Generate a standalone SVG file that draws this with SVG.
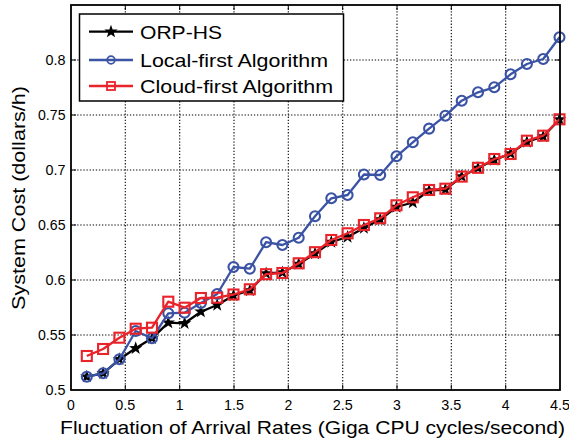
<svg xmlns="http://www.w3.org/2000/svg" xmlns:xlink="http://www.w3.org/1999/xlink" width="569" height="443" viewBox="0 0 569 443">
  <style>
    text { font-family: "Liberation Sans", Arial, sans-serif; fill: #000; }
    .tick { font-size: 14px; }
    .title { font-size: 19px; }
    .grid line { stroke: #000; stroke-width: 1.1; stroke-dasharray: 1.3 1.8; }
    .ticks line { stroke: #000; stroke-width: 1; }
    .s-orp { fill: none; stroke: #000; stroke-width: 2.3; stroke-linejoin: round; }
    .s-local { fill: none; stroke: #3a53a4; stroke-width: 2.3; stroke-linejoin: round; }
    .s-cloud { fill: none; stroke: #e8232a; stroke-width: 2.3; stroke-linejoin: round; }
  </style>
  <defs>
    <path id="star" d="M0,-7 L1.65,-2.27 L6.66,-2.16 L2.67,0.87 L4.11,5.66 L0,2.8 L-4.11,5.66 L-2.67,0.87 L-6.66,-2.16 L-1.65,-2.27 Z" fill="#000"/>
    <circle id="ring" r="5" fill="none" stroke="#3a53a4" stroke-width="2.1"/>
    <rect id="box" x="-5" y="-5" width="10" height="10" fill="none" stroke="#e8232a" stroke-width="2.1"/>
  </defs>

  <rect width="569" height="443" fill="#fff"/>

  <!-- dotted grid -->
  <g id="grid" class="grid">
    <line x1="125.3" y1="5" x2="125.3" y2="390"/>
    <line x1="179.7" y1="5" x2="179.7" y2="390"/>
    <line x1="234" y1="5" x2="234" y2="390"/>
    <line x1="288.3" y1="5" x2="288.3" y2="390"/>
    <line x1="342.7" y1="5" x2="342.7" y2="390"/>
    <line x1="397" y1="5" x2="397" y2="390"/>
    <line x1="451.3" y1="5" x2="451.3" y2="390"/>
    <line x1="505.7" y1="5" x2="505.7" y2="390"/>
    <line x1="71" y1="335" x2="560" y2="335"/>
    <line x1="71" y1="280" x2="560" y2="280"/>
    <line x1="71" y1="225" x2="560" y2="225"/>
    <line x1="71" y1="170" x2="560" y2="170"/>
    <line x1="71" y1="115" x2="560" y2="115"/>
    <line x1="71" y1="60" x2="560" y2="60"/>
  </g>

  <!-- tick marks on all four sides -->
  <g id="ticks" class="ticks">
    <line x1="125.3" y1="390" x2="125.3" y2="385"/><line x1="125.3" y1="5" x2="125.3" y2="10"/>
    <line x1="179.7" y1="390" x2="179.7" y2="385"/><line x1="179.7" y1="5" x2="179.7" y2="10"/>
    <line x1="234" y1="390" x2="234" y2="385"/><line x1="234" y1="5" x2="234" y2="10"/>
    <line x1="288.3" y1="390" x2="288.3" y2="385"/><line x1="288.3" y1="5" x2="288.3" y2="10"/>
    <line x1="342.7" y1="390" x2="342.7" y2="385"/><line x1="342.7" y1="5" x2="342.7" y2="10"/>
    <line x1="397" y1="390" x2="397" y2="385"/><line x1="397" y1="5" x2="397" y2="10"/>
    <line x1="451.3" y1="390" x2="451.3" y2="385"/><line x1="451.3" y1="5" x2="451.3" y2="10"/>
    <line x1="505.7" y1="390" x2="505.7" y2="385"/><line x1="505.7" y1="5" x2="505.7" y2="10"/>
    <line x1="71" y1="335" x2="76" y2="335"/><line x1="560" y1="335" x2="555" y2="335"/>
    <line x1="71" y1="280" x2="76" y2="280"/><line x1="560" y1="280" x2="555" y2="280"/>
    <line x1="71" y1="225" x2="76" y2="225"/><line x1="560" y1="225" x2="555" y2="225"/>
    <line x1="71" y1="170" x2="76" y2="170"/><line x1="560" y1="170" x2="555" y2="170"/>
    <line x1="71" y1="115" x2="76" y2="115"/><line x1="560" y1="115" x2="555" y2="115"/>
    <line x1="71" y1="60" x2="76" y2="60"/><line x1="560" y1="60" x2="555" y2="60"/>
  </g>

  <!-- data series -->
  <g id="series-orp-hs">
    <polyline class="s-orp" points="86.8,376.7 103.1,373.3 119.4,359.3 135.7,348.3 152,338.3 168.3,322.7 184.6,323.3 200.9,311.7 217.2,305 233.5,295.5 249.8,290.5 266.1,273.5 282.4,272.5 298.7,264 315,253.5 331.3,242 347.6,237 363.9,228 380.2,219.5 396.5,207 412.8,202.5 429.1,190.5 445.4,189.5 461.7,176.5 478,168 494.3,160 510.6,153.5 526.9,142 543.2,136.5 559.5,119.5"/>
    <use xlink:href="#star" x="86.8" y="376.7"/><use xlink:href="#star" x="103.1" y="373.3"/>
    <use xlink:href="#star" x="119.4" y="359.3"/><use xlink:href="#star" x="135.7" y="348.3"/>
    <use xlink:href="#star" x="152" y="338.3"/><use xlink:href="#star" x="168.3" y="322.7"/>
    <use xlink:href="#star" x="184.6" y="323.3"/><use xlink:href="#star" x="200.9" y="311.7"/>
    <use xlink:href="#star" x="217.2" y="305"/><use xlink:href="#star" x="233.5" y="295.5"/>
    <use xlink:href="#star" x="249.8" y="290.5"/><use xlink:href="#star" x="266.1" y="273.5"/>
    <use xlink:href="#star" x="282.4" y="272.5"/><use xlink:href="#star" x="298.7" y="264"/>
    <use xlink:href="#star" x="315" y="253.5"/><use xlink:href="#star" x="331.3" y="242"/>
    <use xlink:href="#star" x="347.6" y="237"/><use xlink:href="#star" x="363.9" y="228"/>
    <use xlink:href="#star" x="380.2" y="219.5"/><use xlink:href="#star" x="396.5" y="207"/>
    <use xlink:href="#star" x="412.8" y="202.5"/><use xlink:href="#star" x="429.1" y="190.5"/>
    <use xlink:href="#star" x="445.4" y="189.5"/><use xlink:href="#star" x="461.7" y="176.5"/>
    <use xlink:href="#star" x="478" y="168"/><use xlink:href="#star" x="494.3" y="160"/>
    <use xlink:href="#star" x="510.6" y="153.5"/><use xlink:href="#star" x="526.9" y="142"/>
    <use xlink:href="#star" x="543.2" y="136.5"/><use xlink:href="#star" x="559.5" y="119.5"/>
  </g>

  <g id="series-local-first">
    <polyline class="s-local" points="86.8,376.7 103.1,373.3 119.4,359.3 135.7,331 152,338.3 168.3,313.3 184.6,312.7 200.9,303 217.2,294 233.5,267 249.8,268.7 266.1,242.2 282.4,245 298.7,237.8 315,216.3 331.3,198.3 347.6,195 363.9,174.5 380.2,175 396.5,156.3 412.8,142.3 429.1,128.6 445.4,115.7 461.7,100.7 478,92.3 494.3,87.3 510.6,74.3 526.9,64 543.2,59 559.5,37.3"/>
    <use xlink:href="#ring" x="86.8" y="376.7"/><use xlink:href="#ring" x="103.1" y="373.3"/>
    <use xlink:href="#ring" x="119.4" y="359.3"/><use xlink:href="#ring" x="135.7" y="331"/>
    <use xlink:href="#ring" x="152" y="338.3"/><use xlink:href="#ring" x="168.3" y="313.3"/>
    <use xlink:href="#ring" x="184.6" y="312.7"/><use xlink:href="#ring" x="200.9" y="303"/>
    <use xlink:href="#ring" x="217.2" y="294"/><use xlink:href="#ring" x="233.5" y="267"/>
    <use xlink:href="#ring" x="249.8" y="268.7"/><use xlink:href="#ring" x="266.1" y="242.2"/>
    <use xlink:href="#ring" x="282.4" y="245"/><use xlink:href="#ring" x="298.7" y="237.8"/>
    <use xlink:href="#ring" x="315" y="216.3"/><use xlink:href="#ring" x="331.3" y="198.3"/>
    <use xlink:href="#ring" x="347.6" y="195"/><use xlink:href="#ring" x="363.9" y="174.5"/>
    <use xlink:href="#ring" x="380.2" y="175"/><use xlink:href="#ring" x="396.5" y="156.3"/>
    <use xlink:href="#ring" x="412.8" y="142.3"/><use xlink:href="#ring" x="429.1" y="128.6"/>
    <use xlink:href="#ring" x="445.4" y="115.7"/><use xlink:href="#ring" x="461.7" y="100.7"/>
    <use xlink:href="#ring" x="478" y="92.3"/><use xlink:href="#ring" x="494.3" y="87.3"/>
    <use xlink:href="#ring" x="510.6" y="74.3"/><use xlink:href="#ring" x="526.9" y="64"/>
    <use xlink:href="#ring" x="543.2" y="59"/><use xlink:href="#ring" x="559.5" y="37.3"/>
  </g>

  <g id="series-cloud-first">
    <polyline class="s-cloud" points="86.8,356 103.1,349 119.4,337.7 135.7,328.7 152,327.7 168.3,301.7 184.6,307.7 200.9,298 217.2,297.7 233.5,294.5 249.8,289.3 266.1,274.2 282.4,273 298.7,263.3 315,252.2 331.3,240 347.6,233.3 363.9,225 380.2,218.3 396.5,205.3 412.8,197.3 429.1,190 445.4,188.7 461.7,176.6 478,167.8 494.3,159 510.6,154 526.9,140.7 543.2,135.7 559.5,119.3"/>
    <use xlink:href="#box" x="86.8" y="356"/><use xlink:href="#box" x="103.1" y="349"/>
    <use xlink:href="#box" x="119.4" y="337.7"/><use xlink:href="#box" x="135.7" y="328.7"/>
    <use xlink:href="#box" x="152" y="327.7"/><use xlink:href="#box" x="168.3" y="301.7"/>
    <use xlink:href="#box" x="184.6" y="307.7"/><use xlink:href="#box" x="200.9" y="298"/>
    <use xlink:href="#box" x="217.2" y="297.7"/><use xlink:href="#box" x="233.5" y="294.5"/>
    <use xlink:href="#box" x="249.8" y="289.3"/><use xlink:href="#box" x="266.1" y="274.2"/>
    <use xlink:href="#box" x="282.4" y="273"/><use xlink:href="#box" x="298.7" y="263.3"/>
    <use xlink:href="#box" x="315" y="252.2"/><use xlink:href="#box" x="331.3" y="240"/>
    <use xlink:href="#box" x="347.6" y="233.3"/><use xlink:href="#box" x="363.9" y="225"/>
    <use xlink:href="#box" x="380.2" y="218.3"/><use xlink:href="#box" x="396.5" y="205.3"/>
    <use xlink:href="#box" x="412.8" y="197.3"/><use xlink:href="#box" x="429.1" y="190"/>
    <use xlink:href="#box" x="445.4" y="188.7"/><use xlink:href="#box" x="461.7" y="176.6"/>
    <use xlink:href="#box" x="478" y="167.8"/><use xlink:href="#box" x="494.3" y="159"/>
    <use xlink:href="#box" x="510.6" y="154"/><use xlink:href="#box" x="526.9" y="140.7"/>
    <use xlink:href="#box" x="543.2" y="135.7"/><use xlink:href="#box" x="559.5" y="119.3"/>
  </g>

  <!-- axes frame -->
  <rect id="frame" x="71" y="5" width="489" height="385" fill="none" stroke="#000" stroke-width="1.8"/>

  <!-- tick labels -->
  <g id="x-labels" class="tick" text-anchor="middle">
    <text x="71" y="409.5">0</text>
    <text x="125.3" y="409.5" textLength="20" lengthAdjust="spacingAndGlyphs">0.5</text>
    <text x="179.7" y="409.5">1</text>
    <text x="234" y="409.5" textLength="20" lengthAdjust="spacingAndGlyphs">1.5</text>
    <text x="288.3" y="409.5">2</text>
    <text x="342.7" y="409.5" textLength="20" lengthAdjust="spacingAndGlyphs">2.5</text>
    <text x="397" y="409.5">3</text>
    <text x="451.3" y="409.5" textLength="20" lengthAdjust="spacingAndGlyphs">3.5</text>
    <text x="505.7" y="409.5">4</text>
    <text x="560" y="409.5" textLength="20" lengthAdjust="spacingAndGlyphs">4.5</text>
  </g>
  <g id="y-labels" class="tick" text-anchor="end">
    <text x="65.5" y="395" textLength="20" lengthAdjust="spacingAndGlyphs">0.5</text>
    <text x="65.5" y="340" textLength="27.5" lengthAdjust="spacingAndGlyphs">0.55</text>
    <text x="65.5" y="285" textLength="20" lengthAdjust="spacingAndGlyphs">0.6</text>
    <text x="65.5" y="230" textLength="27.5" lengthAdjust="spacingAndGlyphs">0.65</text>
    <text x="65.5" y="175" textLength="20" lengthAdjust="spacingAndGlyphs">0.7</text>
    <text x="65.5" y="120" textLength="27.5" lengthAdjust="spacingAndGlyphs">0.75</text>
    <text x="65.5" y="65" textLength="20" lengthAdjust="spacingAndGlyphs">0.8</text>
  </g>

  <!-- axis titles -->
  <text id="x-title" class="title" x="60" y="434" textLength="505" lengthAdjust="spacingAndGlyphs">Fluctuation of Arrival Rates (Giga CPU cycles/second)</text>
  <text id="y-title" class="title" transform="translate(25,310) rotate(-90)" x="0" y="0" textLength="224" lengthAdjust="spacingAndGlyphs">System Cost (dollars/h)</text>

  <!-- legend -->
  <g id="legend">
    <rect x="79.5" y="14" width="264" height="87" fill="#fff" stroke="#000" stroke-width="1.5"/>
    <g id="legend-orp-hs">
      <line class="s-orp" x1="89" y1="31.7" x2="133" y2="31.7"/>
      <use xlink:href="#star" x="111" y="31.7"/>
      <text class="title" x="140" y="38.5" textLength="82" lengthAdjust="spacingAndGlyphs">ORP-HS</text>
    </g>
    <g id="legend-local-first">
      <line class="s-local" x1="89" y1="60" x2="133" y2="60"/>
      <circle cx="111" cy="60" r="3.8" fill="none" stroke="#3a53a4" stroke-width="1.8"/>
      <text class="title" x="140" y="67" textLength="188" lengthAdjust="spacingAndGlyphs">Local-first Algorithm</text>
    </g>
    <g id="legend-cloud-first">
      <line class="s-cloud" x1="89" y1="86" x2="133" y2="86"/>
      <rect x="107" y="82" width="8" height="8" fill="none" stroke="#e8232a" stroke-width="1.8"/>
      <text class="title" x="140" y="93" textLength="193" lengthAdjust="spacingAndGlyphs">Cloud-first Algorithm</text>
    </g>
  </g>
</svg>
